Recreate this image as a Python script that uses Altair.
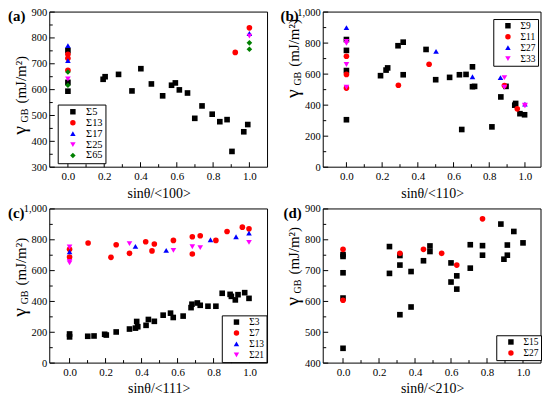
import altair as alt
import pandas as pd

FONT = "Liberation Serif"
COLORS = ["#000000", "#FF0000", "#0000FF", "#FF00FF", "#008000"]
SHAPES = ["square", "circle", "triangle-up", "triangle-down", "diamond"]

# ---------------- Panel (a) <100> ----------------
A_NAMES = ["Σ5", "Σ13", "Σ17", "Σ25", "Σ65"]
A_S5_X = [0, 0, 0, 0.194, 0.205, 0.279, 0.353, 0.402, 0.46, 0.522, 0.571, 0.592, 0.614, 0.659,
          0.699, 0.739, 0.795, 0.837, 0.877, 0.904, 0.969, 0.991]
A_S5_Y = [751, 628, 594, 640, 650, 659, 595, 681, 622, 576, 617, 626, 599, 587,
          489, 537, 505, 476, 484, 361, 437, 465]
A_S13_X = [0, 0, 0, 0.922, 1.0]
A_S13_Y = [737, 721, 675, 744, 839]
A_S17_X = [0, 0, 1.0]
A_S17_Y = [770, 712, 817]
A_S25_X = [0, 1.0]
A_S25_Y = [641, 807]
A_S65_X = [0, 0, 1.0, 1.0]
A_S65_Y = [668, 617, 781, 756]

# ---------------- Panel (b) <110> ----------------
B_NAMES = ["Σ9", "Σ11", "Σ27", "Σ33"]
B_S9_X = [0, 0, 0, 0, 0.191, 0.222, 0.231, 0.289, 0.318, 0.318, 0.446, 0.5, 0.578, 0.633, 0.67,
          0.646, 0.706, 0.706, 0.718, 0.815, 0.865, 0.894, 0.943, 0.948, 0.972, 0.998]
B_S9_Y = [823, 753, 623, 306, 590, 626, 640, 783, 806, 596, 759, 564, 579, 596, 598,
          243, 647, 519, 521, 260, 453, 521, 400, 411, 345, 338]
B_S11_X = [0, 0, 0, 0.291, 0.463, 0.885, 0.957]
B_S11_Y = [715, 598, 510, 528, 664, 526, 376]
B_S27_X = [0, 0.502, 0.706, 0.863, 1.0]
B_S27_Y = [900, 747, 583, 577, 407]
B_S33_X = [0, 0, 0, 0, 0.885, 0.885, 1.0, 1.0]
B_S33_Y = [810, 798, 662, 515, 577, 515, 400, 395]

# ---------------- Panel (c) <111> ----------------
C_NAMES = ["Σ3", "Σ7", "Σ13", "Σ21"]
C_S3_X = [0, 0, 0.101, 0.136, 0.195, 0.204, 0.259, 0.333, 0.366, 0.379, 0.373, 0.425, 0.438, 0.471,
          0.52, 0.561, 0.576, 0.631, 0.675, 0.68, 0.71, 0.726, 0.769, 0.813, 0.848, 0.892, 0.899,
          0.921, 0.936, 0.973, 0.997]
C_S3_Y = [189, 170, 174, 176, 187, 182, 202, 221, 227, 236, 270, 245, 283, 271,
          311, 324, 296, 305, 360, 382, 390, 375, 369, 369, 453, 446, 433,
          410, 444, 457, 420]
C_S7_X = [0, 0, 0.103, 0.23, 0.259, 0.333, 0.423, 0.458, 0.471, 0.577, 0.682, 0.682, 0.726,
          0.813, 0.875, 0.96, 0.997]
C_S7_Y = [738, 688, 779, 686, 768, 712, 787, 728, 773, 796, 820, 708, 826,
          796, 854, 882, 871]
C_S13_X = [0, 0.366, 0.537, 0.783, 0.925, 0.997]
C_S13_Y = [722, 757, 731, 800, 820, 843]
C_S21_X = [0, 0, 0, 0.333, 0.577, 0.682, 0.726, 0.997]
C_S21_Y = [753, 660, 650, 775, 731, 755, 749, 783]

# ---------------- Panel (d) <210> ----------------
D_NAMES = ["Σ15", "Σ27"]
D_S15_X = [0, 0, 0, 0, 0, 0.258, 0.258, 0.316, 0.316, 0.316, 0.378, 0.378, 0.447, 0.483, 0.483,
           0.6, 0.6, 0.632, 0.632, 0.707, 0.707, 0.775, 0.775, 0.877, 0.894, 0.913, 0.913, 0.949, 1.0]
D_S15_Y = [752, 746, 693, 611, 448, 778, 691, 749, 718, 557, 697, 582, 732, 780, 762,
           725, 663, 683, 640, 784, 708, 781, 750, 851, 737, 783, 750, 827, 790]
D_S27_X = [0, 0, 0.316, 0.447, 0.548, 0.632, 0.775]
D_S27_Y = [769, 604, 756, 769, 756, 718, 868]

# ---------------- ticks ----------------
X_MAJOR = [0.0, 0.2, 0.4, 0.6, 0.8, 1.0]
X_MINOR = [0.1, 0.3, 0.5, 0.7, 0.9]
Y_A_MAJOR = [300, 400, 500, 600, 700, 800, 900]
Y_A_MINOR = [350, 450, 550, 650, 750, 850]
Y_BC_MAJOR = [0, 200, 400, 600, 800, 1000]
Y_BC_MINOR = [100, 300, 500, 700, 900]
Y_D_MAJOR = [400, 500, 600, 700, 800, 900]
Y_D_MINOR = [450, 550, 650, 750, 850]


def build_df(names, xs, ys):
    rows = []
    for n, xv, yv in zip(names, xs, ys):
        for a, b in zip(xv, yv):
            rows.append({"s": n, "x": a, "y": b})
    return pd.DataFrame(rows)


def panel(label, lab_x, names, xs, ys, xdom, ydom, ymaj, ymin, xtitle, w, h,
          leg, gam_c):
    df = build_df(names, xs, ys)
    k = len(names)
    xs_ = alt.Scale(domain=xdom, nice=False, zero=False)
    ys_ = alt.Scale(domain=ydom, nice=False, zero=False)
    x_enc = alt.X("x:Q", scale=xs_, axis=alt.Axis(
        values=X_MAJOR, format=".1f", title=xtitle, ticks=False, domain=False, grid=False,
        labelFont=FONT, labelFontSize=11, labelColor="black", labelPadding=3,
        titleFont=FONT, titleFontSize=14, titleFontWeight="normal", titleColor="black",
        titlePadding=5))
    y_enc = alt.Y("y:Q", scale=ys_, axis=alt.Axis(
        values=ymaj, title=None, ticks=False, domain=False, grid=False,
        labelFont=FONT, labelFontSize=10.5, labelColor="black", labelPadding=3))
    lg = alt.Legend(title=None, orient="none", legendX=leg[0], legendY=leg[1],
                    strokeColor="black", fillColor="white", padding=leg[2],
                    symbolOffset=leg[3], labelOffset=leg[4], rowPadding=leg[5],
                    labelFont=FONT, labelFontSize=leg[6], labelColor="black",
                    symbolSize=30, symbolStrokeWidth=0)
    frame = alt.Chart(pd.DataFrame({"f": [0]})).mark_rect(
        fill="white", stroke="black", strokeWidth=1
    ).encode(x=alt.value(0), x2=alt.value(w), y=alt.value(0), y2=alt.value(h))
    pts = alt.Chart(df).mark_point(filled=True, size=32, opacity=1).encode(
        x=x_enc, y=y_enc,
        color=alt.Color("s:N", scale=alt.Scale(domain=names, range=COLORS[:k]), legend=lg),
        shape=alt.Shape("s:N", scale=alt.Scale(domain=names, range=SHAPES[:k]), legend=lg),
    )
    xt_maj = alt.Chart(pd.DataFrame({"x": X_MAJOR})).mark_rule(color="black", strokeWidth=1).encode(
        x=x_enc, y=alt.value(h), y2=alt.value(h - 5))
    xt_min = alt.Chart(pd.DataFrame({"x": X_MINOR})).mark_rule(color="black", strokeWidth=1).encode(
        x=x_enc, y=alt.value(h), y2=alt.value(h - 3))
    yt_maj = alt.Chart(pd.DataFrame({"y": ymaj})).mark_rule(color="black", strokeWidth=1).encode(
        y=y_enc, x=alt.value(0), x2=alt.value(5))
    yt_min = alt.Chart(pd.DataFrame({"y": ymin})).mark_rule(color="black", strokeWidth=1).encode(
        y=y_enc, x=alt.value(0), x2=alt.value(3))
    lab = alt.Chart(pd.DataFrame({"t": [label]})).mark_text(
        font=FONT, fontSize=15, fontWeight="bold", align="left", baseline="middle", color="black"
    ).encode(x=alt.value(lab_x), y=alt.value(4), text="t:N")
    g1 = alt.Chart(pd.DataFrame({"t": ["γ"]})).mark_text(
        font=FONT, fontSize=20, angle=270, align="center", baseline="middle", color="black"
    ).encode(x=alt.value(-30), y=alt.value(gam_c), text="t:N")
    g2 = alt.Chart(pd.DataFrame({"t": ["GB"]})).mark_text(
        font=FONT, fontSize=10, angle=270, align="center", baseline="middle", color="black"
    ).encode(x=alt.value(-25), y=alt.value(gam_c - 15), text="t:N")
    g3 = alt.Chart(pd.DataFrame({"t": ["(mJ/m²)"]})).mark_text(
        font=FONT, fontSize=15, angle=270, align="center", baseline="middle", color="black"
    ).encode(x=alt.value(-29), y=alt.value(gam_c - 51), text="t:N")
    return alt.layer(frame, pts, xt_maj, xt_min, yt_maj, yt_min, lab, g1, g2, g3).properties(
        width=w, height=h)


A = panel("(a)", -42, A_NAMES, [A_S5_X, A_S13_X, A_S17_X, A_S25_X, A_S65_X],
          [A_S5_Y, A_S13_Y, A_S17_Y, A_S25_Y, A_S65_Y], [-0.1, 1.1], [300, 900],
          Y_A_MAJOR, Y_A_MINOR, "sinθ/<100>", 219, 156,
          (8, 93, 2, 8, 8, 0, 10.5), 119)
B = panel("(b)", -43, B_NAMES, [B_S9_X, B_S11_X, B_S27_X, B_S33_X],
          [B_S9_Y, B_S11_Y, B_S27_Y, B_S33_Y], [-0.13, 1.09], [0, 1000],
          Y_BC_MAJOR, Y_BC_MINOR, "sinθ/<110>", 219, 156,
          (171, 7, 2, 8, 8, 0, 9.5), 82)
C = panel("(c)", -42, C_NAMES, [C_S3_X, C_S7_X, C_S13_X, C_S21_X],
          [C_S3_Y, C_S7_Y, C_S13_Y, C_S21_Y], [-0.11, 1.1], [0, 1000],
          Y_BC_MAJOR, Y_BC_MINOR, "sinθ/<111>", 219, 155,
          (173, 107, 2, 8, 8, 0, 9.5), 104)
D = panel("(d)", -40, D_NAMES, [D_S15_X, D_S27_X],
          [D_S15_Y, D_S27_Y], [-0.11, 1.1], [400, 900],
          Y_D_MAJOR, Y_D_MINOR, "sinθ/<210>", 219, 155,
          (174, 127, 2, 8, 8, 0, 9.5), 93)

chart = alt.concat(A, B, C, D, columns=2, spacing={"row": 42, "column": 56},
                   bounds="flush").resolve_scale(
    color="independent", shape="independent").properties(
    padding={"left": 0, "top": -2, "right": 0, "bottom": 0}
).configure(background="white").configure_view(stroke=None)

chart.save("out.html", embed_options={"renderer": "svg", "actions": False})
